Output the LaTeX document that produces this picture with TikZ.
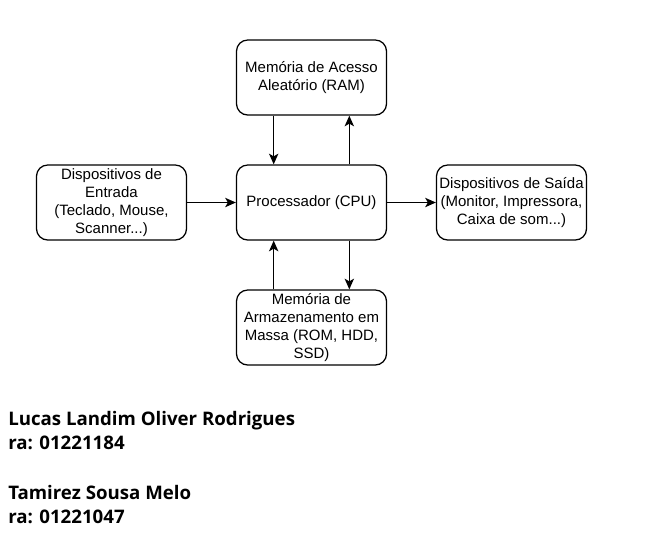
\documentclass[tikz,border=0pt]{standalone}
\usepackage{fontspec}
\setmainfont{Liberation Sans}
\newfontfamily\namefont{Open Sans}
\usetikzlibrary{arrows.meta,calc}
\tikzset{
  box/.style={draw, line width=0.95pt, rounded corners=8.4pt, minimum width=112.5pt, minimum height=56.25pt, inner sep=0pt, align=center, font=\fontsize{11.25}{13.5}\selectfont},
  arr/.style={line width=1pt, -{Stealth[length=8pt, width=7pt, inset=2pt]}},
  who/.style={anchor=base west, inner sep=0pt, font=\namefont\bfseries\fontsize{14}{16}\selectfont}
}
\begin{document}
\begin{tikzpicture}[x=0.75pt, y=-0.75pt]
\useasboundingbox (0,0) rectangle (647,537);
\node[box] (ram) at (311.5,77.5) {Memória de Acesso\\Aleatório (RAM)};
\node[box] (ent) at (111.5,202.5) {Dispositivos de\\Entrada\\(Teclado, Mouse,\\Scanner...)};
\node[box] (cpu) at (311.5,202.5) {Processador (CPU)};
\node[box] (sai) at (511.5,202.5) {Dispositivos de Saída\\(Monitor, Impressora,\\Caixa de som...)};
\node[box] (mas) at (311.5,327.5) {Memória de\\Armazenamento em\\Massa (ROM, HDD,\\SSD)};
\draw[arr] ($(ram.south west)!0.25!(ram.south east)$) -- ($(cpu.north west)!0.25!(cpu.north east)$);
\draw[arr] ($(cpu.north west)!0.75!(cpu.north east)$) -- ($(ram.south west)!0.75!(ram.south east)$);
\draw[arr] ($(mas.north west)!0.25!(mas.north east)$) -- ($(cpu.south west)!0.25!(cpu.south east)$);
\draw[arr] ($(cpu.south west)!0.75!(cpu.south east)$) -- ($(mas.north west)!0.75!(mas.north east)$);
\draw[arr] (ent.east) -- (cpu.west);
\draw[arr] (cpu.east) -- (sai.west);
\node[who] (n1) at (8,425) {Lucas Landim Oliver Rodrigues};
\node[who] (r1) at (8,449) {ra: 01221184};
\node[who] (n2) at (8,499) {Tamirez Sousa Melo};
\node[who] (r2) at (8,523) {ra: 01221047};
\end{tikzpicture}
\end{document}
